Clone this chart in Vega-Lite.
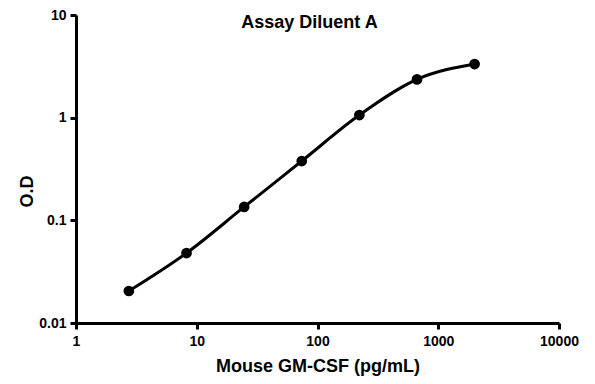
{
  "$schema": "https://vega.github.io/schema/vega-lite/v6.json",
  "width": 483,
  "height": 308,
  "autosize": "none",
  "padding": {"left": 76, "top": 15, "right": 36, "bottom": 61},
  "background": "white",
  "config": {"view": {"stroke": null}, "font": "Liberation Sans"},
  "title": {
    "text": "Assay Diluent A",
    "font": "Liberation Sans",
    "fontSize": 18,
    "fontWeight": "bold",
    "color": "black",
    "anchor": "middle",
    "baseline": "top",
    "offset": 0,
    "dy": 24,
    "dx": -8
  },
  "data": {
    "values": [
      {"conc": 2.74, "od": 0.0205},
      {"conc": 8.23, "od": 0.048},
      {"conc": 24.69, "od": 0.135},
      {"conc": 74.07, "od": 0.378},
      {"conc": 222.2, "od": 1.06},
      {"conc": 666.7, "od": 2.36},
      {"conc": 2000, "od": 3.33}
    ]
  },
  "encoding": {
    "x": {
      "field": "conc",
      "type": "quantitative",
      "scale": {"type": "log", "domain": [1, 10000], "nice": false},
      "axis": {
        "title": "Mouse GM-CSF (pg/mL)",
        "values": [1, 10, 100, 1000, 10000],
        "format": "~g",
        "grid": false,
        "domainColor": "black",
        "domainWidth": 3,
        "tickColor": "black",
        "tickWidth": 3,
        "tickSize": 6,
        "labelFont": "Liberation Sans",
        "labelFontSize": 14,
        "labelFontWeight": "bold",
        "labelColor": "black",
        "labelPadding": 5,
        "labelFlush": false,
        "titleFont": "Liberation Sans",
        "titleFontSize": 18,
        "titleFontWeight": "bold",
        "titleColor": "black",
        "titlePadding": 9
      }
    },
    "y": {
      "field": "od",
      "type": "quantitative",
      "scale": {"type": "log", "domain": [0.01, 10], "nice": false},
      "axis": {
        "title": "O.D",
        "values": [0.01, 0.1, 1, 10],
        "format": "~g",
        "grid": false,
        "domainColor": "black",
        "domainWidth": 3,
        "tickColor": "black",
        "tickWidth": 3,
        "tickSize": 6,
        "labelFont": "Liberation Sans",
        "labelFontSize": 14,
        "labelFontWeight": "bold",
        "labelColor": "black",
        "labelPadding": 4,
        "labelFlush": false,
        "titleFont": "Liberation Sans",
        "titleFontSize": 18,
        "titleFontWeight": "bold",
        "titleColor": "black",
        "titlePadding": 2,
        "titleY": 176
      }
    }
  },
  "layer": [
    {
      "mark": {"type": "line", "interpolate": "monotone", "color": "black", "strokeWidth": 3}
    },
    {
      "mark": {"type": "point", "filled": true, "color": "black", "opacity": 1, "size": 115}
    }
  ]
}
